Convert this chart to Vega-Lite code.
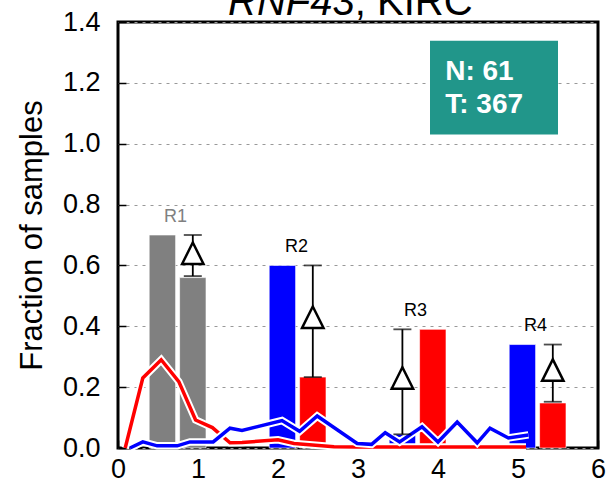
{
  "$schema": "https://vega.github.io/schema/vega-lite/v6.json",
  "autosize": "none",
  "width": 480,
  "height": 426,
  "padding": {"left": 118, "top": 22, "right": 11, "bottom": 39},
  "datasets": {
    "bars": [
      {"xs": 0.39, "xe": 0.72, "v": 0.70, "c": "gray"},
      {"xs": 0.77, "xe": 1.10, "v": 0.56, "c": "gray"},
      {"xs": 1.89, "xe": 2.22, "v": 0.60, "c": "blue"},
      {"xs": 2.27, "xe": 2.60, "v": 0.233, "c": "red"},
      {"xs": 3.39, "xe": 3.72, "v": 0.045, "c": "blue"},
      {"xs": 3.77, "xe": 4.10, "v": 0.39, "c": "red"},
      {"xs": 4.89, "xe": 5.22, "v": 0.34, "c": "blue"},
      {"xs": 5.27, "xe": 5.60, "v": 0.148, "c": "red"}
    ],
    "red": [
      {"x": 0.09, "y": 0.0}, {"x": 0.31, "y": 0.23}, {"x": 0.54, "y": 0.29}, {"x": 0.76, "y": 0.218},
      {"x": 0.97, "y": 0.092}, {"x": 1.18, "y": 0.067}, {"x": 1.4, "y": 0.017}, {"x": 1.55, "y": 0.018},
      {"x": 2.0, "y": 0.027}, {"x": 2.2, "y": 0.015}, {"x": 2.7, "y": 0.004}, {"x": 3.0, "y": 0.003},
      {"x": 4.0, "y": 0.003}, {"x": 5.1, "y": 0.003}
    ],
    "blue": [
      {"x": 0.15, "y": 0.0}, {"x": 0.31, "y": 0.02}, {"x": 0.49, "y": 0.007}, {"x": 0.74, "y": 0.007},
      {"x": 0.9, "y": 0.02}, {"x": 1.19, "y": 0.02}, {"x": 1.4, "y": 0.065}, {"x": 1.55, "y": 0.058},
      {"x": 2.05, "y": 0.09}, {"x": 2.27, "y": 0.055}, {"x": 2.49, "y": 0.105}, {"x": 2.99, "y": 0.015},
      {"x": 3.17, "y": 0.012}, {"x": 3.34, "y": 0.05}, {"x": 3.52, "y": 0.02}, {"x": 3.8, "y": 0.07},
      {"x": 4.0, "y": 0.02}, {"x": 4.24, "y": 0.085}, {"x": 4.49, "y": 0.017}, {"x": 4.65, "y": 0.065},
      {"x": 4.88, "y": 0.033}, {"x": 5.13, "y": 0.043}
    ],
    "errs": [
      {"x": 0.935, "lo": 0.565, "hi": 0.70, "t": 0.64},
      {"x": 2.435, "lo": 0.233, "hi": 0.60, "t": 0.43},
      {"x": 3.555, "lo": 0.045, "hi": 0.39, "t": 0.23},
      {"x": 5.435, "lo": 0.152, "hi": 0.34, "t": 0.256}
    ],
    "labels": [
      {"x": 0.72, "y": 0.76, "t": "R1", "c": "gray"},
      {"x": 2.23, "y": 0.66, "t": "R2", "c": "black"},
      {"x": 3.72, "y": 0.45, "t": "R3", "c": "black"},
      {"x": 5.22, "y": 0.40, "t": "R4", "c": "black"}
    ],
    "box": [{"x1": 3.9, "x2": 5.5, "y1": 1.03, "y2": 1.338}],
    "boxtext": [
      {"x": 4.09, "y": 1.21, "t": "N: 61"},
      {"x": 4.09, "y": 1.10, "t": "T: 367"}
    ],
    "title1": [{"x": 2.96, "y": 1.423, "t": "RNF43"}],
    "title2": [{"x": 2.96, "y": 1.423, "t": ", KIRC"}]
  },
  "layer": [
    {
      "data": {"name": "bars"},
      "mark": {"type": "bar", "stroke": "white", "strokeOpacity": 0.6, "strokeWidth": 1},
      "encoding": {
        "x": {"field": "xs", "type": "quantitative", "title": null, "scale": {"domain": [0, 6], "nice": false, "zero": false},
              "axis": {"values": [0, 1, 2, 3, 4, 5, 6], "format": "d"}},
        "x2": {"field": "xe"},
        "y": {"field": "v", "type": "quantitative", "title": "Fraction of samples", "scale": {"domain": [0, 1.4], "nice": false},
              "axis": {"values": [0, 0.2, 0.4, 0.6, 0.8, 1.0, 1.2, 1.4], "format": ".1f"}},
        "y2": {"datum": 0},
        "color": {"field": "c", "type": "nominal", "legend": null,
                  "scale": {"domain": ["gray", "blue", "red"], "range": ["#808080", "#0000ff", "#ff0000"]}}
      }
    },
    {
      "data": {"name": "red"},
      "mark": {"type": "line", "color": "white", "strokeWidth": 7.5, "strokeJoin": "miter"},
      "encoding": {"x": {"field": "x", "type": "quantitative", "title": null}, "y": {"field": "y", "type": "quantitative", "title": "Fraction of samples"}}
    },
    {
      "data": {"name": "red"},
      "mark": {"type": "line", "color": "#ff0000", "strokeWidth": 3.5, "strokeJoin": "miter"},
      "encoding": {"x": {"field": "x", "type": "quantitative", "title": null}, "y": {"field": "y", "type": "quantitative", "title": "Fraction of samples"}}
    },
    {
      "data": {"name": "blue"},
      "mark": {"type": "line", "color": "white", "strokeWidth": 7.5, "strokeJoin": "miter"},
      "encoding": {"x": {"field": "x", "type": "quantitative", "title": null}, "y": {"field": "y", "type": "quantitative", "title": "Fraction of samples"}}
    },
    {
      "data": {"name": "blue"},
      "mark": {"type": "line", "color": "#0000ff", "strokeWidth": 3.5, "strokeJoin": "miter"},
      "encoding": {"x": {"field": "x", "type": "quantitative", "title": null}, "y": {"field": "y", "type": "quantitative", "title": "Fraction of samples"}}
    },
    {
      "data": {"name": "errs"},
      "mark": {"type": "rule", "color": "black", "strokeWidth": 1.8},
      "encoding": {"x": {"field": "x", "type": "quantitative", "title": null}, "y": {"field": "lo", "type": "quantitative", "title": "Fraction of samples"}, "y2": {"field": "hi"}}
    },
    {
      "data": {"name": "errs"},
      "mark": {"type": "tick", "color": "black", "thickness": 1.8, "size": 18, "orient": "horizontal"},
      "encoding": {"x": {"field": "x", "type": "quantitative", "title": null}, "y": {"field": "lo", "type": "quantitative", "title": "Fraction of samples"}}
    },
    {
      "data": {"name": "errs"},
      "mark": {"type": "tick", "color": "black", "thickness": 1.8, "size": 18, "orient": "horizontal"},
      "encoding": {"x": {"field": "x", "type": "quantitative", "title": null}, "y": {"field": "hi", "type": "quantitative", "title": "Fraction of samples"}}
    },
    {
      "data": {"name": "errs"},
      "mark": {"type": "point", "shape": "M-1,1L0,-1L1,1Z", "size": 460, "filled": true, "fill": "white", "stroke": "black", "strokeWidth": 2.5, "opacity": 1},
      "encoding": {"x": {"field": "x", "type": "quantitative", "title": null}, "y": {"field": "t", "type": "quantitative", "title": "Fraction of samples"}}
    },
    {
      "data": {"name": "labels"},
      "mark": {"type": "text", "font": "Liberation Sans", "fontSize": 18, "baseline": "middle", "align": "center"},
      "encoding": {
        "x": {"field": "x", "type": "quantitative", "title": null},
        "y": {"field": "y", "type": "quantitative", "title": "Fraction of samples"},
        "text": {"field": "t"},
        "color": {"field": "c", "type": "nominal", "legend": null, "scale": null}
      }
    },
    {
      "data": {"name": "box"},
      "mark": {"type": "rect", "color": "#21968a"},
      "encoding": {
        "x": {"field": "x1", "type": "quantitative", "title": null}, "x2": {"field": "x2"},
        "y": {"field": "y1", "type": "quantitative", "title": "Fraction of samples"}, "y2": {"field": "y2"}
      }
    },
    {
      "data": {"name": "boxtext"},
      "mark": {"type": "text", "font": "Liberation Sans", "fontSize": 28, "fontWeight": "bold", "color": "white", "align": "left", "baseline": "alphabetic"},
      "encoding": {
        "x": {"field": "x", "type": "quantitative", "title": null},
        "y": {"field": "y", "type": "quantitative", "title": "Fraction of samples"},
        "text": {"field": "t"}
      }
    },
    {
      "data": {"name": "title1"},
      "mark": {"type": "text", "font": "Liberation Sans", "fontSize": 40, "fontStyle": "italic", "color": "black", "align": "right", "baseline": "alphabetic"},
      "encoding": {
        "x": {"field": "x", "type": "quantitative", "title": null},
        "y": {"field": "y", "type": "quantitative", "title": "Fraction of samples"},
        "text": {"field": "t"}
      }
    },
    {
      "data": {"name": "title2"},
      "mark": {"type": "text", "font": "Liberation Sans", "fontSize": 40, "color": "black", "align": "left", "baseline": "alphabetic"},
      "encoding": {
        "x": {"field": "x", "type": "quantitative", "title": null},
        "y": {"field": "y", "type": "quantitative", "title": "Fraction of samples"},
        "text": {"field": "t"}
      }
    }
  ],
  "config": {
    "view": {"stroke": "black", "strokeWidth": 3},
    "axis": {
      "domain": false,
      "labelFont": "Liberation Sans", "labelFontSize": 27, "labelColor": "black",
      "tickColor": "black", "tickSize": -8, "tickWidth": 1.5,
      "titleFont": "Liberation Sans", "titleFontSize": 31, "titleFontWeight": "normal", "titleColor": "black",
      "grid": false
    },
    "axisX": {"labelPadding": 16, "labelFlush": false},
    "axisY": {"grid": true, "gridColor": "#999999", "gridDash": [3, 5], "gridWidth": 1, "labelPadding": 26, "titlePadding": 14}
  }
}
